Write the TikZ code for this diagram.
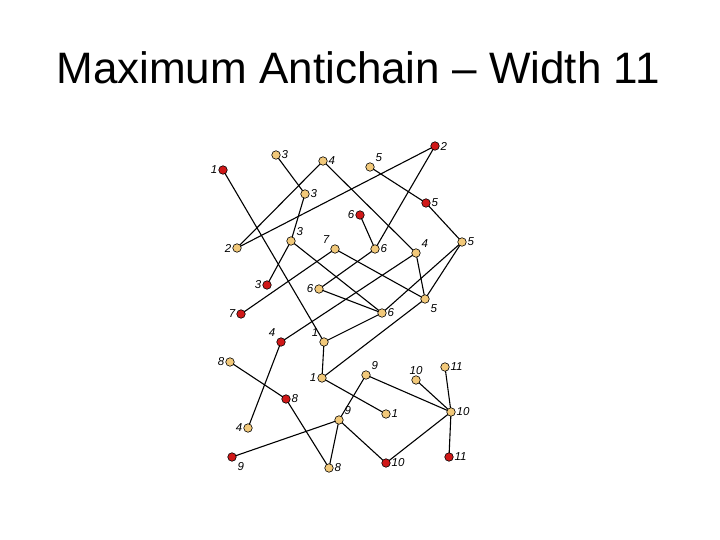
\documentclass[tikz,border=0pt]{standalone}
\usepackage{fontspec}
\setmainfont{Liberation Sans}
\usetikzlibrary{backgrounds}
\definecolor{ye}{HTML}{F2C97A}
\definecolor{rd}{HTML}{D01818}
\begin{document}
\begin{tikzpicture}[x=1pt,y=-1pt,
  yv/.style={circle,draw=black,fill=ye,inner sep=0pt,minimum size=8.5pt,line width=0.6pt},
  rv/.style={circle,draw=black,fill=rd,inner sep=0pt,minimum size=8.5pt,line width=0.6pt},
  lb/.style={font=\fontsize{11.5}{11.5}\selectfont\itshape,inner sep=1pt},
  ed/.style={line width=1.1pt}]
\node[font=\fontsize{44}{44}\selectfont] (title) at (358,68) {Maximum Antichain -- Width 11};
\foreach \n/\s/\x/\y/\t/\a in {
 r1/rv/223/170/1/left, y3a/yv/276/155/3/right, y4a/yv/323/161/4/right, y5a/yv/370/167/5/above right,
 r2/rv/435/146/2/right, y3b/yv/305/194/3/right, r5/rv/426/203/5/right, r6/rv/360/215/6/left,
 y5b/yv/462/242/5/right, y2/yv/237/248/2/left, y3c/yv/291/241/3/above right, y7/yv/335/249/7/above left,
 y6a/yv/375/249/6/right, y4b/yv/416/253/4/above right, r3/rv/267/285/3/left, y6b/yv/319/289/6/left,
 y5c/yv/425/299/5/below right, y6c/yv/382/313/6/right, r7/rv/241/314/7/left,
 r4/rv/281/342/4/above left, y1a/yv/324/342/1/above left, y8a/yv/230/362/8/left, y1b/yv/322/378/1/left,
 y9a/yv/366/375/9/above right, y10a/yv/416/380/10/above, y11a/yv/445/367/11/right, r8/rv/286/399/8/right,
 y1c/yv/386/414/1/right, y10b/yv/451/412/10/right, y9b/yv/339/420/9/above right, y4c/yv/248/428/4/left,
 r9/rv/232/457/9/below right, y8b/yv/329/468/8/right, r10/rv/386/463/10/right, r11/rv/449/457/11/right}
 { \node[\s] (\n) at (\x,\y) {}; \node[lb,\a=4.5pt] (l\n) at (\n) {\t}; }
\begin{scope}[on background layer]
\fill[white] (0,0) rectangle (720,540);
\foreach \a/\b in {r1/y1a, y3a/y3b, y3b/y3c, y3c/r3, y4a/y2, y4a/y4b, y2/r2, r2/y6a, r6/y6a, y6a/y6b,
 y5a/r5, r5/y5b, y5b/y5c, y5b/y6c, y4b/y5c, y4b/r4, y7/y5c, y7/r7, y3c/y6c, y6b/y6c, y6c/y1a, y5c/y1b,
 y1a/y1b, y8a/r8, r8/y8b, r4/y4c, y1b/y1c, y9a/y9b, y9a/y10b, y10a/y10b, y11a/y10b, y10b/r11, y10b/r10,
 y9b/r10, y9b/r9, y9b/y8b}
 { \draw[ed] (\a.center) -- (\b.center); }
\end{scope}
\end{tikzpicture}
\end{document}
